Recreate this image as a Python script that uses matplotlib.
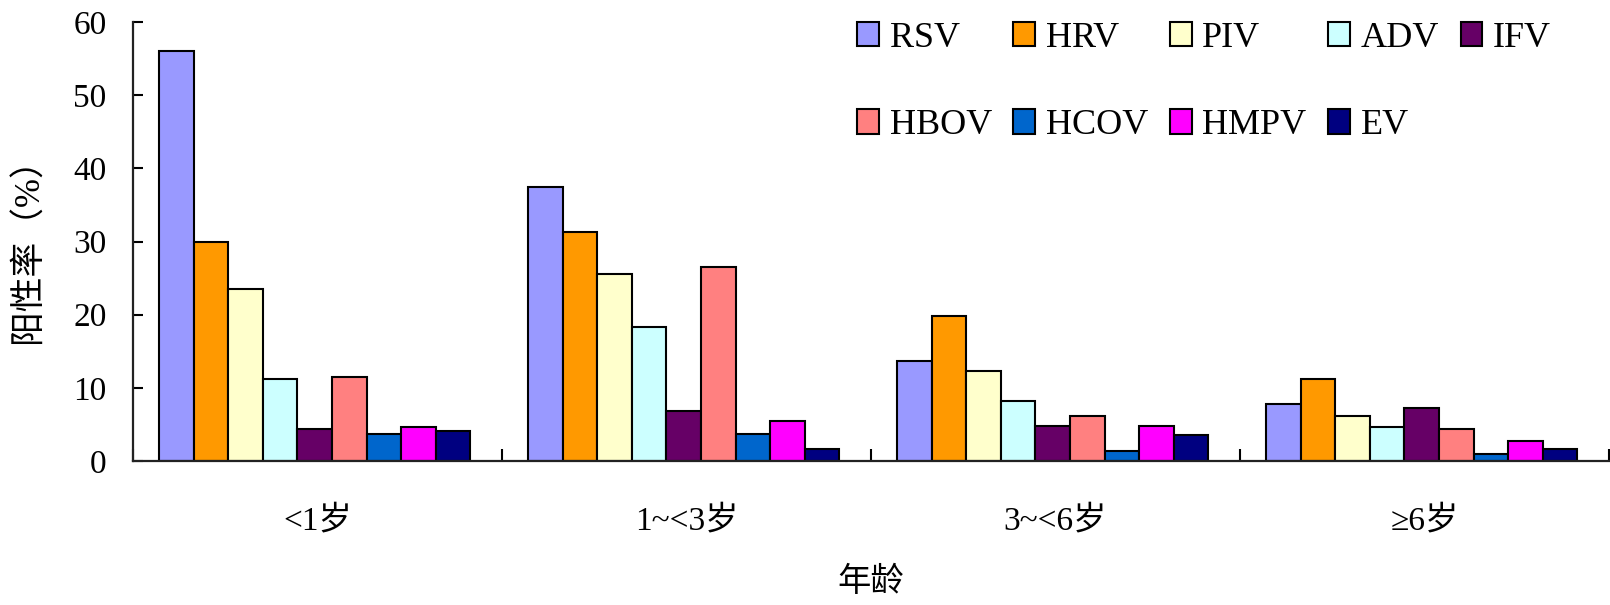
import numpy as np
import matplotlib
matplotlib.use('Agg')
import matplotlib.pyplot as plt

plt.rcParams['font.family'] = ['Liberation Serif', 'Noto Sans CJK SC']

# positive rate (%) by age group for each virus
age_groups = ['<1岁', '1~<3岁', '3~<6岁', '≥6岁']
viruses = ['RSV', 'HRV', 'PIV', 'ADV', 'IFV', 'HBOV', 'HCOV', 'HMPV', 'EV']
rsv = [56.1, 37.5, 13.7, 7.8]
hrv = [30.0, 31.3, 19.8, 11.2]
piv = [23.5, 25.5, 12.3, 6.1]
adv = [11.2, 18.3, 8.2, 4.7]
ifv = [4.4, 6.8, 4.8, 7.2]
hbov = [11.5, 26.5, 6.1, 4.4]
hcov = [3.7, 3.7, 1.4, 0.9]
hmpv = [4.7, 5.4, 4.8, 2.7]
ev = [4.1, 1.6, 3.5, 1.7]
colors = ['#9999FF', '#FF9900', '#FFFFCC', '#CCFFFF', '#660066',
          '#FF8080', '#0066CC', '#FF00FF', '#000080']

series = [rsv, hrv, piv, adv, ifv, hbov, hcov, hmpv, ev]

fig = plt.figure(figsize=(16.1, 6.05), dpi=100)
ax = fig.add_axes([133/1610, 1 - 461/605, 1476/1610, (461 - 22)/605])

x = np.arange(len(age_groups))
bw = 0.0938
start = 0.0703
bars = []
for k, (name, vals, c) in enumerate(zip(viruses, series, colors)):
    b = ax.bar(x + start + k * bw, vals, width=bw, align='edge', color=c,
               edgecolor='black', linewidth=1.5, label=name)
    bars.append(b)

ax.set_xlim(0, len(age_groups))
ax.set_ylim(0, 60)
ax.set_yticks(range(0, 61, 10))
ax.set_xticks(range(len(age_groups) + 1))
ax.set_xticklabels([])
ax.set_xticks(x + 0.5, labels=age_groups, minor=True)

for side in ('top', 'right'):
    ax.spines[side].set_visible(False)
for side in ('left', 'bottom'):
    ax.spines[side].set_linewidth(1.6)
    ax.spines[side].set_color('#222222')

ax.tick_params(axis='y', direction='in', length=7, width=1.5, labelsize=24, pad=19)
ax.tick_params(axis='x', which='major', direction='in', length=9, width=1.5)
ax.tick_params(axis='x', which='minor', length=0, labelsize=24, pad=32)

ax.set_ylabel('阳性率（%）', fontsize=25, labelpad=20)
ax.set_xlabel('年龄', fontsize=24, labelpad=22)

# legend fills by column, so interleave to get row order 5 + 4
order = [0, 5, 1, 6, 2, 7, 3, 8, 4]
ax.legend([bars[i] for i in order], [viruses[i] for i in order],
          ncol=5, loc='upper left', bbox_to_anchor=(857/1610, 1 - 22/605),
          bbox_transform=fig.transFigure, frameon=False, fontsize=26,
          handlelength=0.6, handleheight=0.65, handletextpad=0.3,
          columnspacing=0.6, labelspacing=1.5, borderpad=0, borderaxespad=0)

fig.savefig('out.png', dpi=100)
